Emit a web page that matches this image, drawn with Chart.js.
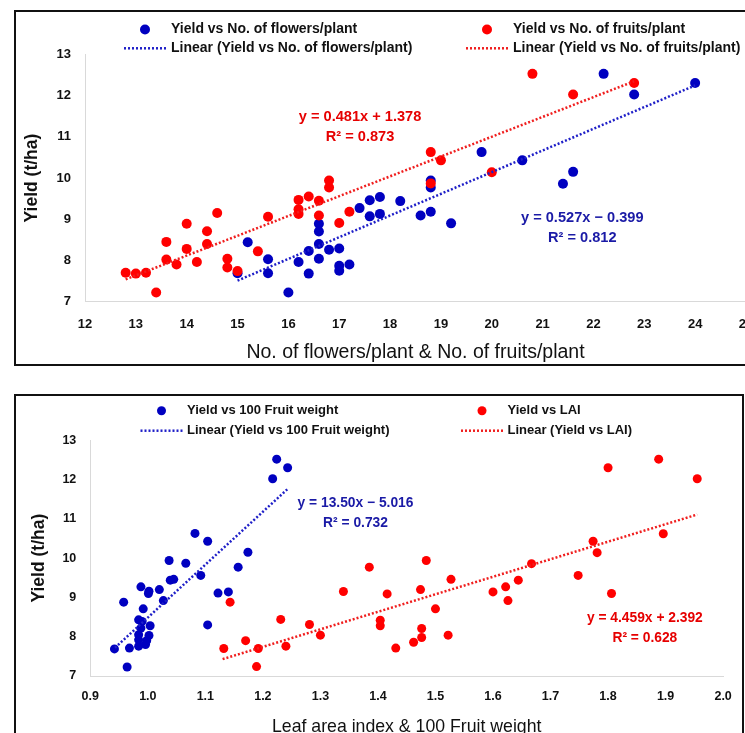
<!DOCTYPE html>
<html>
<head>
<meta charset="utf-8">
<title>Yield regressions</title>
<script src="https://cdn.jsdelivr.net/npm/chart.js@4.4.1/dist/chart.umd.min.js"></script>
<style>
    html, body { margin: 0; padding: 0; background: #fff; width: 745px; height: 733px; overflow: hidden; }
    .frame { position: absolute; border: 2px solid #111; box-sizing: border-box; }
    #frame1 { left: 14px; top: 10px; width: 800px; height: 356px; }
    #frame2 { left: 14px; top: 394px; width: 730px; height: 400px; }
    canvas { position: absolute; }
    #chart1 { left: 0; top: 0; }
    #chart2 { left: 0; top: 380px; }
</style>
</head>
<body>
<div class="frame" id="frame1"></div>
<div class="frame" id="frame2"></div>
<canvas id="chart1" width="800" height="370"></canvas>
<canvas id="chart2" width="745" height="360"></canvas>
<script>
// 上段: 花数・果実数 vs 収量
const flowersX = [15.0, 15.2, 15.6, 15.6, 16.0, 16.2, 16.4, 16.4, 16.6, 16.6, 16.6, 16.6, 16.8, 17.0, 17.0, 17.0, 17.2, 17.4,
    17.6, 17.6, 17.8, 17.8, 18.2, 18.6, 18.8, 18.8, 18.8, 19.2, 19.8, 20.6, 21.4, 21.6, 22.2, 22.8, 24.0];
const flowersYield = [7.69, 8.44, 8.03, 7.69, 7.22, 7.96, 8.23, 7.68, 8.89, 8.70, 8.40, 8.04, 8.26, 8.29, 7.87, 7.75, 7.90, 9.27,
    9.46, 9.07, 9.54, 9.13, 9.44, 9.09, 9.94, 9.77, 9.18, 8.90, 10.63, 10.43, 9.86, 10.15, 12.53, 12.03, 12.31];
const fruitsX = [12.8, 13.0, 13.2, 13.4, 13.6, 13.6, 13.8, 14.0, 14.0, 14.2, 14.4, 14.4, 14.6, 14.8, 14.8, 15.0, 15.4, 15.6,
    16.2, 16.2, 16.2, 16.4, 16.6, 16.6, 16.8, 16.8, 17.0, 17.2, 18.8, 18.8, 19.0, 20.0, 20.8, 21.6, 22.8];
const fruitsYield = [7.70, 7.68, 7.70, 7.22, 8.45, 8.02, 7.90, 8.89, 8.28, 7.96, 8.71, 8.40, 9.15, 8.04, 7.83, 7.74, 8.22, 9.06,
    9.47, 9.24, 9.13, 9.55, 9.45, 9.09, 9.94, 9.77, 8.91, 9.18, 10.63, 9.87, 10.43, 10.14, 12.53, 12.03, 12.31];
const flowersTrendX = [15.0, 24.0];
const flowersTrendY = [7.51, 12.25];
const fruitsTrendX = [12.8, 22.8];
const fruitsTrendY = [7.54, 12.35];

// 下段: LAI・100果重 vs 収量
const fruitWtX = [0.942, 0.968, 0.964, 0.958, 0.984, 0.984, 0.998, 1.002, 0.984, 0.984, 0.990, 0.988, 1.004, 0.992, 0.988,
    1.001, 1.002, 1.020, 1.027, 1.037, 1.039, 1.045, 1.066, 1.082, 1.092, 1.104, 1.104, 1.122, 1.140, 1.157, 1.174,
    1.217, 1.224, 1.243, 0.996];
const fruitWtYield = [7.69, 7.71, 7.23, 8.88, 7.76, 7.92, 7.90, 8.03, 8.05, 8.43, 8.39, 8.22, 8.28, 8.71, 9.27,
    9.10, 9.16, 9.20, 8.92, 9.94, 9.44, 9.46, 9.87, 10.63, 9.56, 10.43, 8.30, 9.11, 9.14, 9.77, 10.15,
    12.02, 12.52, 12.30, 7.80];
const laiX = [1.143, 1.132, 1.170, 1.192, 1.189, 1.231, 1.240, 1.281, 1.300, 1.340, 1.385, 1.404, 1.404, 1.416, 1.431,
    1.462, 1.476, 1.476, 1.474, 1.484, 1.500, 1.522, 1.527, 1.600, 1.622, 1.626, 1.644, 1.667, 1.748, 1.774, 1.781,
    1.800, 1.806, 1.888, 1.896, 1.955];
const laiYield = [8.88, 7.70, 7.90, 7.70, 7.24, 8.44, 7.76, 8.31, 8.04, 9.15, 9.77, 8.42, 8.28, 9.09, 7.71,
    7.86, 8.21, 7.98, 9.20, 9.94, 8.71, 8.04, 9.46, 9.14, 9.27, 8.92, 9.44, 9.86, 9.56, 10.43, 10.14,
    12.30, 9.10, 12.52, 10.62, 12.02];
const fruitWtTrendX = [0.943, 1.243];
const fruitWtTrendY = [7.72, 11.76];
const laiTrendX = [1.13, 1.955];
const laiTrendY = [7.43, 11.11];

const BLUE = '#0000c0';
const RED = '#ff0000';
const FONT = '"Liberation Sans", Arial, sans-serif';

function toPoints(xs, ys) {
    return xs.map((x, i) => ({ x: x, y: ys[i] }));
}

function pointSet(label, xs, ys, color, radius, order) {
    return {
        label: label,
        data: toPoints(xs, ys),
        backgroundColor: color,
        borderColor: color,
        borderWidth: 0,
        pointRadius: radius,
        showLine: false,
        order: order
    };
}

function trendSet(label, xs, ys, color, order) {
    return {
        label: label,
        data: toPoints(xs, ys),
        borderColor: color,
        backgroundColor: color,
        borderWidth: 2.5,
        borderDash: [2, 2],
        pointRadius: 0,
        showLine: true,
        order: order
    };
}

// 凡例と回帰式の描画
const annotatePlugin = {
    id: 'annotate',
    afterDraw(chart, args, opts) {
        const ctx = chart.ctx;
        ctx.save();
        ctx.font = opts.legendFont;
        ctx.textBaseline = 'middle';
        ctx.textAlign = 'left';
        chart.data.datasets.forEach((ds, i) => {
            const cx = opts.cols[i % 2];
            const cy = opts.rows[Math.floor(i / 2)];
            if (ds.showLine) {
                ctx.strokeStyle = ds.borderColor;
                ctx.lineWidth = ds.borderWidth;
                ctx.setLineDash(ds.borderDash);
                ctx.beginPath();
                ctx.moveTo(cx - 21, cy);
                ctx.lineTo(cx + 21, cy);
                ctx.stroke();
                ctx.setLineDash([]);
            } else {
                ctx.fillStyle = ds.backgroundColor;
                ctx.beginPath();
                ctx.arc(cx, cy, ds.pointRadius, 0, Math.PI * 2);
                ctx.fill();
            }
            ctx.fillStyle = '#111';
            ctx.fillText(ds.label, cx + opts.gap, cy);
        });

        ctx.font = opts.noteFont;
        ctx.textAlign = 'center';
        const xs = chart.scales.x, ys = chart.scales.y;
        opts.notes.forEach(n => {
            ctx.fillStyle = n.color;
            const px = xs.getPixelForValue(n.x);
            n.lines.forEach((line, k) => {
                ctx.fillText(line, px, ys.getPixelForValue(n.y) + k * opts.noteStep);
            });
        });
        ctx.restore();
    }
};

function makeChart(id, cfg) {
    return new Chart(document.getElementById(id), {
        type: 'scatter',
        data: { datasets: cfg.datasets },
        options: {
            responsive: false,
            animation: false,
            layout: { padding: cfg.padding },
            plugins: {
                legend: { display: false },
                tooltip: { enabled: false },
                annotate: cfg.annotate
            },
            scales: {
                x: {
                    type: 'linear',
                    min: cfg.xMin,
                    max: cfg.xMax,
                    ticks: {
                        stepSize: cfg.xStep,
                        padding: cfg.xTickPad,
                        color: '#111',
                        font: { family: FONT, size: cfg.tickSize, weight: 'bold' },
                        callback: cfg.xFormat
                    },
                    grid: { display: false, drawTicks: false },
                    border: { display: true, color: '#d9d9d9', width: 1 },
                    title: {
                        display: true,
                        text: cfg.xTitle,
                        padding: 0,
                        color: '#111',
                        font: { family: FONT, size: cfg.xTitleSize }
                    },
                    afterFit: s => { s.height = cfg.xHeight; }
                },
                y: {
                    min: 7,
                    max: 13,
                    ticks: {
                        stepSize: 1,
                        padding: 14,
                        color: '#111',
                        font: { family: FONT, size: cfg.tickSize, weight: 'bold' }
                    },
                    grid: { display: false, drawTicks: false },
                    border: { display: true, color: '#d9d9d9', width: 1 },
                    title: {
                        display: true,
                        text: 'Yield (t/ha)',
                        padding: 0,
                        color: '#111',
                        font: { family: FONT, size: 17.5, weight: 'bold' }
                    },
                    afterFit: s => { s.width = cfg.yWidth; }
                }
            }
        },
        plugins: [annotatePlugin]
    });
}

document.addEventListener('DOMContentLoaded', () => {
    makeChart('chart1', {
        datasets: [
            pointSet('Yield vs No. of flowers/plant', flowersX, flowersYield, BLUE, 5, 3),
            pointSet('Yield vs No. of fruits/plant', fruitsX, fruitsYield, RED, 5, 2),
            trendSet('Linear (Yield vs No. of flowers/plant)', flowersTrendX, flowersTrendY, '#1f1fc8', 1),
            trendSet('Linear (Yield vs No. of fruits/plant)', fruitsTrendX, fruitsTrendY, '#f01e1e', 0)
        ],
        padding: { left: 22, right: 54, top: 54.5, bottom: 6 },
        yWidth: 63,
        xMin: 12, xMax: 25, xStep: 1, xTickPad: 15.5,
        xHeight: 62.4,
        xTitle: 'No. of flowers/plant & No. of fruits/plant',
        xTitleSize: 19.5,
        tickSize: 13,
        annotate: {
            legendFont: 'bold 14px ' + FONT,
            cols: [145, 487],
            rows: [29.5, 48.3],
            gap: 26,
            noteFont: 'bold 14.6px ' + FONT,
            noteStep: 20,
            notes: [
                { x: 17.41, y: 11.48, color: '#e60000', lines: ['y = 0.481x + 1.378', 'R² = 0.873'] },
                { x: 21.78, y: 9.03, color: '#1a1aa6', lines: ['y = 0.527x − 0.399', 'R² = 0.812'] }
            ]
        }
    });

    makeChart('chart2', {
        datasets: [
            pointSet('Yield vs 100 Fruit weight', fruitWtX, fruitWtYield, BLUE, 4.5, 3),
            pointSet('Yield vs LAI', laiX, laiYield, RED, 4.5, 2),
            trendSet('Linear (Yield vs 100 Fruit weight)', fruitWtTrendX, fruitWtTrendY, '#1f1fc8', 1),
            trendSet('Linear (Yield vs LAI)', laiTrendX, laiTrendY, '#f01e1e', 0)
        ],
        padding: { left: 28.5, right: 20.5, top: 60.3, bottom: 2.6 },
        yWidth: 61.8,
        xMin: 0.9, xMax: 2.0, xStep: 0.1, xTickPad: 13.2,
        xHeight: 61.4,
        xFormat: v => v.toFixed(1),
        xTitle: 'Leaf area index & 100 Fruit weight',
        xTitleSize: 17.7,
        tickSize: 12.5,
        annotate: {
            legendFont: 'bold 13px ' + FONT,
            cols: [161.5, 482],
            rows: [30.7, 50.7],
            gap: 25.5,
            noteFont: 'bold 13.8px ' + FONT,
            noteStep: 20,
            notes: [
                { x: 1.361, y: 11.40, color: '#1a1aa6', lines: ['y = 13.50x − 5.016', 'R² = 0.732'] },
                { x: 1.864, y: 8.48, color: '#e60000', lines: ['y = 4.459x + 2.392', 'R² = 0.628'] }
            ]
        }
    });
});
</script>
</body>
</html>
